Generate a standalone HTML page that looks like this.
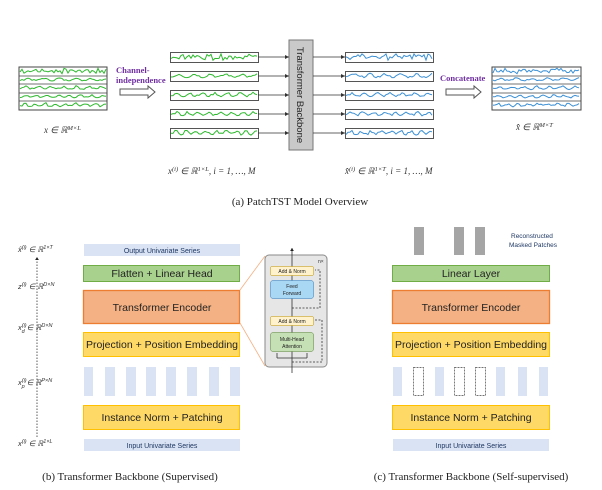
<!DOCTYPE html>
<html><head><meta charset="utf-8"><style>
body{margin:0;background:#fff;width:602px;height:490px;overflow:hidden}
svg{display:block}
text{font-family:"Liberation Sans",sans-serif}
.s{font-family:"Liberation Serif",serif}
</style></head><body>
<svg id="g" width="602" height="490" viewBox="0 0 602 490" xmlns="http://www.w3.org/2000/svg">
<defs>
<marker id="a" markerWidth="6" markerHeight="6" refX="5" refY="3" orient="auto"><path d="M0,0.5 L5,3 L0,5.5z" fill="#333"/></marker>
<marker id="b" markerWidth="5" markerHeight="5" refX="4" refY="2.5" orient="auto"><path d="M0,0 L4,2.5 L0,5z" fill="#222"/></marker>
</defs>
<g id="waves"></g>
<rect x="19" y="67" width="88" height="43" fill="none" stroke="#444" stroke-width="1"/>
<g stroke="#444" stroke-width="0.8"><line x1="19" y1="76" x2="107" y2="76"/><line x1="19" y1="84" x2="107" y2="84"/><line x1="19" y1="93" x2="107" y2="93"/><line x1="19" y1="101" x2="107" y2="101"/></g>
<rect x="492" y="67" width="89" height="43" fill="none" stroke="#444"/>
<g stroke="#444" stroke-width="0.8"><line x1="492" y1="76" x2="581" y2="76"/><line x1="492" y1="84" x2="581" y2="84"/><line x1="492" y1="93" x2="581" y2="93"/><line x1="492" y1="101" x2="581" y2="101"/></g>
<text x="116" y="73" class="s" font-size="8.5" font-weight="bold" fill="#7030a0">Channel-</text>
<text x="116" y="83" class="s" font-size="8.5" font-weight="bold" fill="#7030a0">independence</text>
<path d="M120,89 h28 v-3 l7,6 l-7,6 v-3 h-28z" fill="#fff" stroke="#555"/>
<text x="440" y="81" class="s" font-size="8.5" font-weight="bold" fill="#7030a0">Concatenate</text>
<path d="M446,89 h28 v-3 l7,6 l-7,6 v-3 h-28z" fill="#fff" stroke="#555"/>
<rect x="289" y="40" width="24" height="110" fill="#c9c9c9" stroke="#777"/>
<text transform="translate(297,95) rotate(90)" text-anchor="middle" font-size="9.5" fill="#222">Transformer Backbone</text>
<g id="rows"></g>
<text x="44" y="133" class="s" font-size="9" font-style="italic" fill="#333">x ∈ ℝ<tspan font-size="6.5" dy="-3">M×L</tspan></text>
<text x="168" y="174" class="s" font-size="9" font-style="italic" fill="#333">x<tspan font-size="6.5" dy="-3">(i)</tspan><tspan dy="3"> ∈ ℝ</tspan><tspan font-size="6.5" dy="-3">1×L</tspan><tspan dy="3">, i = 1, …, M</tspan></text>
<text x="345" y="174" class="s" font-size="9" font-style="italic" fill="#333">x̂<tspan font-size="6.5" dy="-3">(i)</tspan><tspan dy="3"> ∈ ℝ</tspan><tspan font-size="6.5" dy="-3">1×T</tspan><tspan dy="3">, i = 1, …, M</tspan></text>
<text x="516" y="130" class="s" font-size="9" font-style="italic" fill="#333">x̂ ∈ ℝ<tspan font-size="6.5" dy="-3">M×T</tspan></text>
<text x="300" y="205" text-anchor="middle" class="s" font-size="11" fill="#222">(a) PatchTST Model Overview</text>

<g class="s" font-size="7.5" font-style="italic" fill="#333">
<text x="18" y="252">x̂<tspan font-size="5.5" dy="-3">(i)</tspan><tspan dy="3"> ∈ ℝ</tspan><tspan font-size="5.5" dy="-3">1×T</tspan></text>
<text x="18" y="289">z<tspan font-size="5.5" dy="-3">(i)</tspan><tspan dy="3"> ∈ ℝ</tspan><tspan font-size="5.5" dy="-3">D×N</tspan></text>
<text x="18" y="330">x<tspan font-size="5.5" dy="-3">(i)</tspan><tspan font-size="5.5" dx="-5" dy="6">d</tspan><tspan dy="-3"> ∈ ℝ</tspan><tspan font-size="5.5" dy="-3">D×N</tspan></text>
<text x="18" y="385">x<tspan font-size="5.5" dy="-3">(i)</tspan><tspan font-size="5.5" dx="-5" dy="6">p</tspan><tspan dy="-3"> ∈ ℝ</tspan><tspan font-size="5.5" dy="-3">P×N</tspan></text>
<text x="18" y="446">x<tspan font-size="5.5" dy="-3">(i)</tspan><tspan dy="3"> ∈ ℝ</tspan><tspan font-size="5.5" dy="-3">1×L</tspan></text>
</g>
<line x1="37" y1="437" x2="37" y2="257" stroke="#333" stroke-width="0.8" stroke-dasharray="1.5,1.5" marker-end="url(#b)"/>

<g font-size="10.5" fill="#222" text-anchor="middle">
<rect x="84" y="244" width="156" height="12" fill="#dae3f3"/>
<text x="162" y="253" font-size="7" fill="#1f3864">Output Univariate Series</text>
<rect x="83.5" y="265.5" width="156" height="16" fill="#a9d18e" stroke="#70ad47"/>
<text x="162" y="277">Flatten + Linear Head</text>
<rect x="83.5" y="290.5" width="156" height="33" fill="#f4b183" stroke="#ed7d31" stroke-width="1.3"/>
<text x="162" y="311">Transformer Encoder</text>
<rect x="83.5" y="332.5" width="156" height="24" fill="#ffd966" stroke="#ffc000"/>
<text x="162" y="348">Projection + Position Embedding</text>
<g fill="#dae3f3"><rect x="84" y="367" width="9" height="29"/><rect x="105" y="367" width="10" height="29"/><rect x="126" y="367" width="10" height="29"/><rect x="146" y="367" width="10" height="29"/><rect x="166" y="367" width="10" height="29"/><rect x="187" y="367" width="10" height="29"/><rect x="209" y="367" width="10" height="29"/><rect x="230" y="367" width="10" height="29"/></g>
<rect x="83.5" y="405.5" width="156" height="24" fill="#ffd966" stroke="#ffc000"/>
<text x="162" y="421">Instance Norm + Patching</text>
<rect x="84" y="439" width="156" height="12" fill="#dae3f3"/>
<text x="162" y="448" font-size="7" fill="#1f3864">Input Univariate Series</text>
</g>
<line x1="240" y1="290" x2="265" y2="256" stroke="#f4b183" stroke-width="0.8"/>
<line x1="240" y1="323" x2="265" y2="366" stroke="#f4b183" stroke-width="0.8"/>
<rect x="265" y="255" width="62" height="112" rx="4" fill="#e7e6e6" stroke="#8a8a8a"/>
<line x1="292" y1="373" x2="292" y2="248" stroke="#333" stroke-width="0.8" marker-end="url(#b)"/>
<text x="318" y="263" font-size="5" fill="#333">n×</text>
<g class="s" font-size="5" text-anchor="middle" fill="#222">
<rect x="270.5" y="266.5" width="43" height="9" rx="1.5" fill="#fff2cc" stroke="#bf9000" stroke-width="0.5"/>
<text x="292" y="273">Add &amp; Norm</text>
<rect x="270.5" y="280.5" width="43" height="18" rx="2.5" fill="#a9d8f5" stroke="#2e75b6" stroke-width="0.5"/>
<text x="292" y="288">Feed</text><text x="292" y="295">Forward</text>
<rect x="270.5" y="316.5" width="43" height="9" rx="1.5" fill="#fff2cc" stroke="#bf9000" stroke-width="0.5"/>
<text x="292" y="323">Add &amp; Norm</text>
<rect x="270.5" y="332.5" width="43" height="19" rx="2.5" fill="#c5e0b4" stroke="#548235" stroke-width="0.5"/>
<text x="292" y="341">Multi-Head</text><text x="292" y="348">Attention</text>
</g>
<g fill="none" stroke="#333" stroke-width="0.8">
<path d="M292,308 H320 V270 H315" stroke-dasharray="2,1.5"/>
<path d="M292,362 H322 V320 H315" stroke-dasharray="2,1.5"/>
<path d="M277,358 H307 M277,358 V353 M307,358 V353"/>
</g>

<g fill="#a5a5a5"><rect x="414" y="227" width="10" height="28"/><rect x="454" y="227" width="10" height="28"/><rect x="475" y="227" width="10" height="28"/></g>
<text x="511" y="238" font-size="6.5" fill="#1f3864">Reconstructed</text>
<text x="509" y="247" font-size="6.5" fill="#1f3864">Masked Patches</text>
<g font-size="10.5" fill="#222" text-anchor="middle">
<rect x="392.5" y="265.5" width="157" height="16" fill="#a9d18e" stroke="#70ad47"/>
<text x="471" y="277">Linear Layer</text>
<rect x="392.5" y="290.5" width="157" height="33" fill="#f4b183" stroke="#ed7d31" stroke-width="1.3"/>
<text x="471" y="311">Transformer Encoder</text>
<rect x="392.5" y="332.5" width="157" height="24" fill="#ffd966" stroke="#ffc000"/>
<text x="471" y="348">Projection + Position Embedding</text>
<g fill="#dae3f3"><rect x="393" y="367" width="9" height="29"/><rect x="435" y="367" width="9" height="29"/><rect x="496" y="367" width="9" height="29"/><rect x="518" y="367" width="9" height="29"/><rect x="539" y="367" width="9" height="29"/></g>
<g fill="none" stroke="#444" stroke-width="0.7" stroke-dasharray="2,1"><rect x="413.5" y="367.5" width="10" height="28"/><rect x="454.5" y="367.5" width="10" height="28"/><rect x="475.5" y="367.5" width="10" height="28"/></g>
<rect x="392.5" y="405.5" width="157" height="24" fill="#ffd966" stroke="#ffc000"/>
<text x="471" y="421">Instance Norm + Patching</text>
<rect x="393" y="439" width="156" height="12" fill="#dae3f3"/>
<text x="471" y="448" font-size="7" fill="#1f3864">Input Univariate Series</text>
</g>
<text x="130" y="480" text-anchor="middle" class="s" font-size="11" fill="#222">(b) Transformer Backbone (Supervised)</text>
<text x="471" y="480" text-anchor="middle" class="s" font-size="11" fill="#222">(c) Transformer Backbone (Self-supervised)</text>
</svg>
<script>
(function(){
var NS="http://www.w3.org/2000/svg";
var seed=7;function r(){seed=(seed*9301+49297)%233280;return seed/233280;}
function wave(g,x,y,w,h,col,freq,noise){
 var p=[];for(var i=0;i<=w;i+=2){var v=0.45+0.35*Math.pow(Math.abs(Math.sin(i/freq)),3)+noise*(r()-0.5);v=Math.max(0.05,Math.min(0.95,v));p.push((x+i).toFixed(1)+","+(y+h-v*h).toFixed(1));}
 var pl=document.createElementNS(NS,"polyline");pl.setAttribute("points",p.join(" "));pl.setAttribute("fill","none");pl.setAttribute("stroke",col);pl.setAttribute("stroke-width","1");g.appendChild(pl);}
var W=document.getElementById("waves"),R=document.getElementById("rows");
var fr=[1.5,5,4,3.5,3.2],nz=[0.6,0.25,0.25,0.25,0.3];
var big=[[67,76],[76,84],[84,93],[93,101],[101,110]];
for(var k=0;k<5;k++){wave(W,20,big[k][0]+1,86,big[k][1]-big[k][0]-2,"#2db82d",fr[k],nz[k]);wave(W,493,big[k][0]+1,87,big[k][1]-big[k][0]-2,"#3b8fd4",fr[k],nz[k]);}
var ys=[52,71,90,109,128];
for(var k=0;k<5;k++){var y=ys[k];
 var rc=document.createElementNS(NS,"rect");rc.setAttribute("x",170.5);rc.setAttribute("y",y+.5);rc.setAttribute("width",88);rc.setAttribute("height",10);rc.setAttribute("fill","none");rc.setAttribute("stroke","#555");R.appendChild(rc);
 wave(R,171,y+1.5,86,8,"#2db82d",fr[k],nz[k]);
 var rc2=rc.cloneNode();rc2.setAttribute("x",345.5);R.appendChild(rc2);
 wave(R,346,y+1.5,86,8,"#3b8fd4",fr[k],nz[k]);
 var l=document.createElementNS(NS,"line");l.setAttribute("x1",258);l.setAttribute("x2",289);l.setAttribute("y1",y+5);l.setAttribute("y2",y+5);l.setAttribute("stroke","#333");l.setAttribute("stroke-width","0.8");l.setAttribute("marker-end","url(#a)");R.appendChild(l);
 var l2=l.cloneNode();l2.setAttribute("x1",313);l2.setAttribute("x2",345);R.appendChild(l2);}
})();
</script>
</body></html>
